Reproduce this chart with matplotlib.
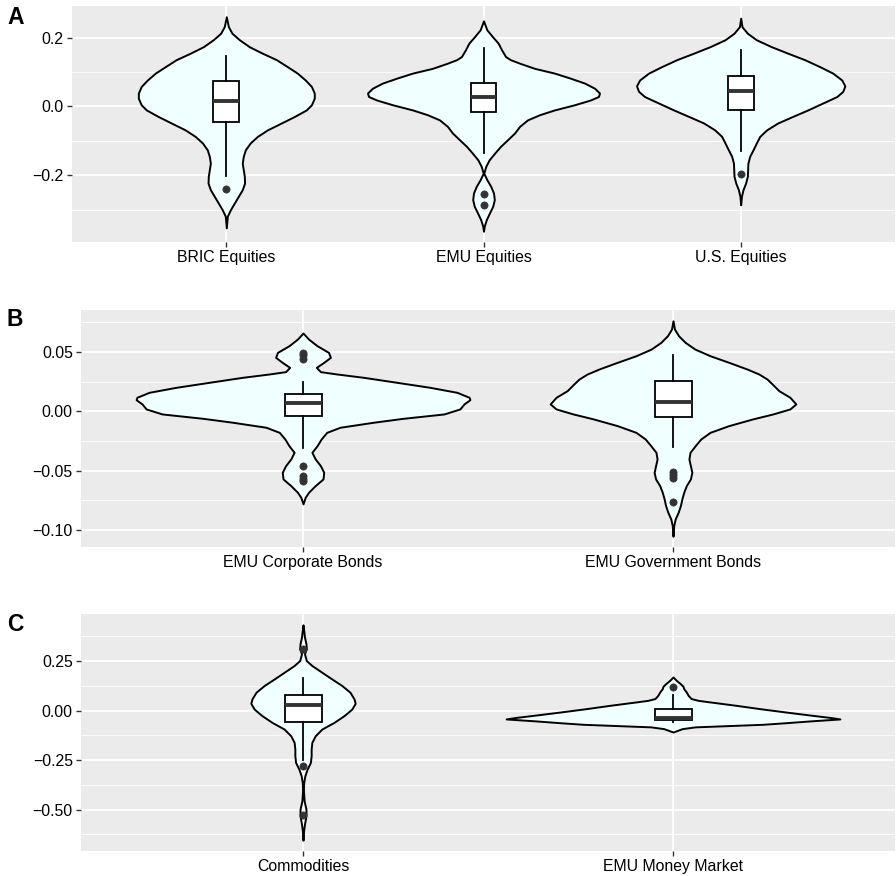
import matplotlib
matplotlib.use("Agg")
import matplotlib.pyplot as plt
from matplotlib.ticker import FixedLocator

plt.rcParams['font.family'] = ['Liberation Sans', 'DejaVu Sans']

# ---------------- Panel A : equities ----------------
cats_A = ["BRIC Equities", "EMU Equities", "U.S. Equities"]

bric_y = [0.261, 0.232, 0.213, 0.194, 0.174, 0.155, 0.136, 0.116, 0.097, 0.077, 0.058, 0.039,
          0.024, 0.005, -0.010, -0.029, -0.048, -0.068, -0.087, -0.106, -0.126, -0.145, -0.165,
          -0.184, -0.203, -0.223, -0.242, -0.261, -0.281, -0.300, -0.319, -0.353]
bric_w = [0, 0.008, 0.022, 0.051, 0.089, 0.140, 0.195, 0.237, 0.276, 0.307, 0.331, 0.342,
          0.342, 0.331, 0.311, 0.265, 0.214, 0.160, 0.121, 0.093, 0.074, 0.066, 0.062,
          0.066, 0.070, 0.071, 0.062, 0.047, 0.031, 0.016, 0.004, 0]

emu_y = [0.249, 0.223, 0.203, 0.184, 0.165, 0.145, 0.136, 0.126, 0.111, 0.097, 0.082, 0.068,
         0.053, 0.039, 0.029, 0.019, 0.005, -0.010, -0.024, -0.039, -0.058, -0.077, -0.097,
         -0.116, -0.136, -0.155, -0.174, -0.194, -0.213, -0.232, -0.252, -0.271, -0.290,
         -0.310, -0.329, -0.348, -0.363]
emu_w = [0, 0.013, 0.035, 0.057, 0.070, 0.086, 0.105, 0.140, 0.198, 0.276, 0.339, 0.393,
         0.432, 0.451, 0.447, 0.416, 0.354, 0.276, 0.218, 0.171, 0.140, 0.121, 0.093,
         0.066, 0.043, 0.022, 0.009, 0.001, 0.013, 0.028, 0.039, 0.042, 0.036,
         0.023, 0.011, 0.003, 0]

us_y = [0.257, 0.232, 0.213, 0.194, 0.174, 0.155, 0.136, 0.116, 0.097, 0.077, 0.060, 0.044,
        0.029, 0.010, -0.010, -0.029, -0.048, -0.068, -0.087, -0.106, -0.126, -0.145, -0.165,
        -0.184, -0.203, -0.223, -0.242, -0.261, -0.286]
us_w = [0, 0.005, 0.026, 0.061, 0.119, 0.183, 0.249, 0.307, 0.358, 0.393, 0.405, 0.397,
        0.374, 0.319, 0.261, 0.202, 0.144, 0.101, 0.074, 0.061, 0.048, 0.035, 0.028,
        0.027, 0.026, 0.019, 0.009, 0.003, 0]

q1_A = [-0.046, -0.015, -0.010]
med_A = [0.017, 0.028, 0.046]
q3_A = [0.073, 0.067, 0.088]
lo_A = [-0.203, -0.134, -0.129]
hi_A = [0.148, 0.169, 0.164]
out_A = [[-0.241], [-0.255, -0.288], [-0.195]]

yt_A = [-0.2, 0.0, 0.2]
ytl_A = ["\u22120.2", "0.0", "0.2"]
ym_A = [-0.3, -0.1, 0.1]

# ---------------- Panel B : bonds ----------------
cats_B = ["EMU Corporate Bonds", "EMU Government Bonds"]

corp_y = [0.0659, 0.0608, 0.0552, 0.0496, 0.0454, 0.0412, 0.0370, 0.0334, 0.0314, 0.0286,
          0.0244, 0.0202, 0.0160, 0.0118, 0.0098, 0.0062, 0.0020, -0.0022, -0.0059, -0.0092,
          -0.0134, -0.0177, -0.0233, -0.0289, -0.0345, -0.0401, -0.0457, -0.0513, -0.0569,
          -0.0625, -0.0681, -0.0723, -0.0779]
corp_w = [0, 0.015, 0.038, 0.069, 0.074, 0.056, 0.036, 0.047, 0.092, 0.164,
          0.254, 0.343, 0.416, 0.449, 0.451, 0.435, 0.424, 0.381, 0.270, 0.190,
          0.100, 0.064, 0.049, 0.038, 0.024, 0.033, 0.047, 0.056, 0.054,
          0.033, 0.015, 0.006, 0]

gov_y = [0.0762, 0.0692, 0.0636, 0.0580, 0.0524, 0.0468, 0.0412, 0.0356, 0.0314, 0.0272,
         0.0230, 0.0174, 0.0118, 0.0062, 0.0020, -0.0022, -0.0064, -0.0121, -0.0177, -0.0233,
         -0.0289, -0.0345, -0.0401, -0.0457, -0.0513, -0.0569, -0.0625, -0.0681, -0.0737,
         -0.0793, -0.0849, -0.0905, -0.0961, -0.1051]
gov_w = [0, 0.004, 0.015, 0.033, 0.059, 0.100, 0.151, 0.200, 0.232, 0.254,
         0.268, 0.286, 0.316, 0.332, 0.316, 0.270, 0.215, 0.150, 0.100, 0.075,
         0.060, 0.046, 0.043, 0.047, 0.051, 0.047, 0.036, 0.029, 0.024,
         0.020, 0.014, 0.006, 0.002, 0]

q1_B = [-0.0039, -0.0047]
med_B = [0.0073, 0.0076]
q3_B = [0.0146, 0.0253]
lo_B = [-0.0310, -0.0304]
hi_B = [0.0248, 0.0478]
out_B = [[0.049, 0.047, 0.044, -0.046, -0.054, -0.057, -0.059],
         [-0.051, -0.0535, -0.056, -0.0765]]

yt_B = [-0.10, -0.05, 0.00, 0.05]
ytl_B = ["\u22120.10", "\u22120.05", "0.00", "0.05"]
ym_B = [-0.075, -0.025, 0.025, 0.075]

# ---------------- Panel C : other ----------------
cats_C = ["Commodities", "EMU Money Market"]

com_y = [0.434, 0.405, 0.372, 0.338, 0.313, 0.287, 0.253, 0.228, 0.194, 0.160, 0.127, 0.093,
         0.059, 0.037, 0.008, -0.025, -0.059, -0.093, -0.127, -0.160, -0.194, -0.228, -0.262,
         -0.296, -0.329, -0.363, -0.397, -0.456, -0.498, -0.532, -0.574, -0.617, -0.655]
com_w = [0, 0.002, 0.004, 0.008, 0.009, 0.004, 0.009, 0.024, 0.051, 0.078, 0.105, 0.127,
         0.138, 0.141, 0.132, 0.111, 0.084, 0.051, 0.033, 0.024, 0.022, 0.022, 0.020,
         0.011, 0.005, 0.002, 0.001, 0.003, 0.008, 0.008, 0.004, 0.001, 0]

mm_y = [0.170, 0.153, 0.136, 0.123, 0.111, 0.094, 0.077, 0.061, 0.052, 0.044, 0.027, 0.010,
        -0.007, -0.024, -0.035, -0.042, -0.052, -0.061, -0.069, -0.082, -0.091, -0.108]
mm_w = [0, 0.009, 0.020, 0.027, 0.029, 0.036, 0.041, 0.049, 0.068, 0.100, 0.170, 0.235,
        0.305, 0.378, 0.427, 0.451, 0.370, 0.305, 0.243, 0.060, 0.025, 0]

q1_C = [-0.058, -0.045]
med_C = [0.030, -0.038]
q3_C = [0.077, 0.010]
lo_C = [-0.248, -0.057]
hi_C = [0.165, 0.077]
out_C = [[0.312, -0.281, -0.530], [0.120]]

yt_C = [-0.50, -0.25, 0.00, 0.25]
ytl_C = ["\u22120.50", "\u22120.25", "0.00", "0.25"]
ym_C = [-0.625, -0.375, -0.125, 0.125, 0.375]

# ---------------- drawing ----------------
W, H = 896, 876
fig = plt.figure(figsize=(W / 100, H / 100), dpi=100)


def px_axes(left, top, right, bottom):
    return fig.add_axes([left / W, 1 - bottom / H, (right - left) / W, (bottom - top) / H])


def draw_panel(ax, cats, violins, q1, med, q3, lo, hi, outs, yt, ytl, ym):
    n = len(cats)
    ax.set_facecolor('#EBEBEB')
    for s in ax.spines.values():
        s.set_visible(False)
    allv = []
    for i, (vy, vw) in enumerate(violins):
        ax.fill_betweenx(vy, [i - w for w in vw], [i + w for w in vw],
                         facecolor='#F0FFFF', edgecolor='black', linewidth=1.4,
                         joinstyle='round', zorder=2)
        allv += vy
    stats = []
    for i in range(n):
        stats.append(dict(med=med[i], q1=q1[i], q3=q3[i], whislo=lo[i], whishi=hi[i],
                          fliers=outs[i]))
    ax.bxp(stats, positions=list(range(n)), widths=0.1, patch_artist=True,
           showcaps=False, manage_ticks=False,
           boxprops=dict(facecolor='white', edgecolor='black', linewidth=1.3),
           whiskerprops=dict(color='black', linewidth=1.3),
           medianprops=dict(color='#333333', linewidth=2.8, solid_capstyle='butt'),
           flierprops=dict(marker='o', markerfacecolor='#333333', markeredgecolor='#333333',
                           markersize=5.2, markeredgewidth=0.5),
           zorder=3)
    ax.set_xlim(-0.6, n - 0.4)
    lo_v, hi_v = min(allv), max(allv)
    pad = 0.05 * (hi_v - lo_v)
    ax.set_ylim(lo_v - pad, hi_v + pad)
    ax.set_xticks(list(range(n)))
    ax.set_xticklabels(cats)
    ax.set_yticks(yt)
    ax.set_yticklabels(ytl)
    ax.yaxis.set_minor_locator(FixedLocator(ym))
    ax.set_axisbelow(True)
    ax.grid(which='major', color='white', linewidth=1.3)
    ax.grid(which='minor', axis='y', color='white', linewidth=0.6)
    ax.tick_params(which='major', length=3.3, width=1.0, color='#333333',
                   labelsize=11.4, labelcolor='black', pad=2.6)
    ax.tick_params(which='minor', length=0)


axA = px_axes(72, 6, 895, 242)
draw_panel(axA, cats_A, [(bric_y, bric_w), (emu_y, emu_w), (us_y, us_w)],
           q1_A, med_A, q3_A, lo_A, hi_A, out_A, yt_A, ytl_A, ym_A)

axB = px_axes(81, 310, 895, 547)
draw_panel(axB, cats_B, [(corp_y, corp_w), (gov_y, gov_w)],
           q1_B, med_B, q3_B, lo_B, hi_B, out_B, yt_B, ytl_B, ym_B)

axC = px_axes(81, 614, 895, 851)
draw_panel(axC, cats_C, [(com_y, com_w), (mm_y, mm_w)],
           q1_C, med_C, q3_C, lo_C, hi_C, out_C, yt_C, ytl_C, ym_C)

for lab, base in [("A", 24.5), ("B", 325.5), ("C", 631)]:
    fig.text(7 / W, 1 - base / H, lab, fontsize=16.5, fontweight='bold',
             ha='left', va='baseline')

fig.savefig("out.png", dpi=100)
